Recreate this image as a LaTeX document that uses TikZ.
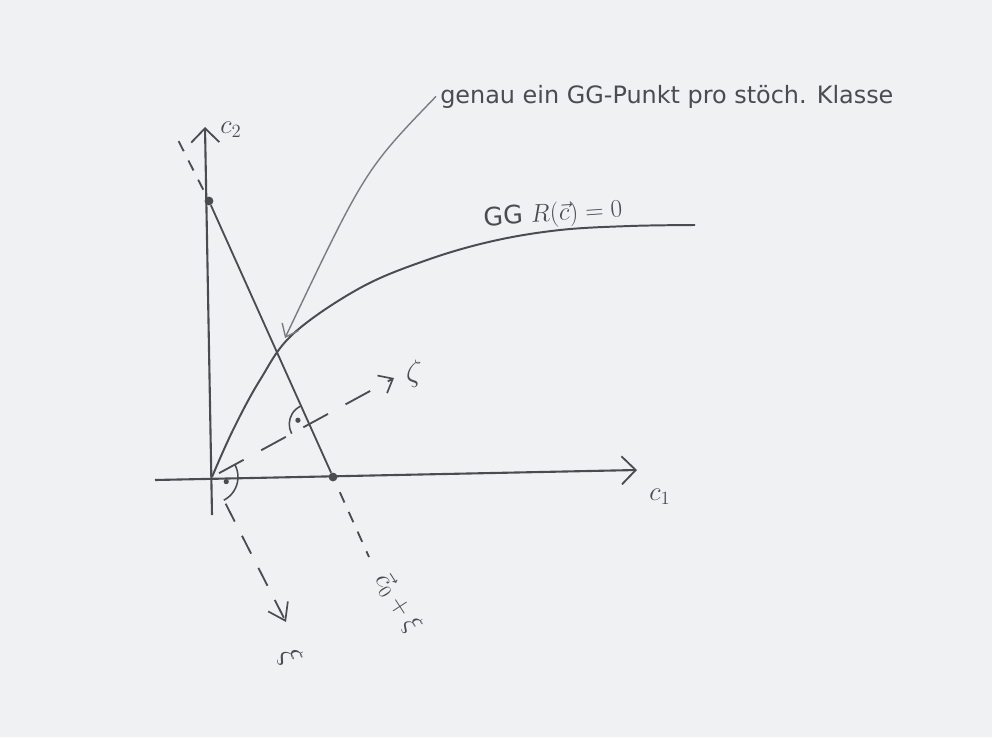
\RequirePackage{fix-cm}
\documentclass[tikz,border=0pt]{standalone}
\usepackage{fontspec}
\setmainfont{DejaVu Sans}
\usetikzlibrary{positioning,arrows.meta,calc}
\definecolor{pencil}{HTML}{4B4C50}
\definecolor{pencillt}{HTML}{7A7C80}
\definecolor{paper}{HTML}{EFF1F3}
\tikzset{
  axis/.style  ={line width=1.5pt, draw=pencil,
                 -{Straight Barb[length=3.5mm,width=7mm,line width=1.3pt]}},
  cls/.style   ={line width=1.3pt, draw=pencil},
  clsd/.style  ={cls, dash pattern=on 2.8mm off 2.6mm},
  daxz/.style  ={line width=1.3pt, draw=pencil, dash pattern=on 7mm off 5mm,
                 -{Straight Barb[length=3mm,width=5mm,line width=1.2pt]}},
  daxx/.style  ={line width=1.3pt, draw=pencil, dash pattern=on 5mm off 4mm,
                 -{Straight Barb[length=4mm,width=5.5mm,line width=1.2pt]}},
  ggc/.style   ={line width=1.4pt, draw=pencil},
  hint/.style  ={line width=1pt, draw=pencillt,
                 -{Straight Barb[length=2.8mm,width=4.5mm,line width=1pt]}},
  rang/.style  ={line width=1.1pt, draw=pencil},
  pt/.style    ={circle, fill=pencil, inner sep=0pt, minimum size=2.2mm},
  dotm/.style  ={circle, fill=pencil, inner sep=0pt, minimum size=1.3mm},
  lbl/.style   ={text=pencil, inner sep=1pt, font=\fontsize{19}{22}\selectfont},
  note/.style  ={text=pencil, inner sep=0pt, font=\fontsize{17}{20}\selectfont}
}

\begin{document}
\begin{tikzpicture}[x=0.025cm, y=-0.025cm]
  \fill[paper] (0,0) rectangle (992,737);
  \useasboundingbox (0,0) rectangle (992,737);

  % axes
  \coordinate (o)   at (212,477);
  \coordinate (c1a) at (155,480);
  \coordinate (c1b) at (637,470);
  \coordinate (c2a) at (212,515);
  \coordinate (c2b) at (205,127);
  \draw[axis] (c1a) -- (c1b);
  \draw[axis] (c2a) -- (c2b);
  \node[lbl] (c1l) at (660,497) {$c_1$};
  \node[lbl] (c2l) at (231,130) {$c_2$};

  % stoichiometric class
  \node[pt] (p2) at (209,201) {};
  \node[pt] (p1) at (333,477) {};
  \coordinate (te) at (176,136);
  \coordinate (be) at (369,557);
  \draw[cls] (p2) -- (p1);
  \draw[clsd, shorten <=2mm] (p2) -- (te);
  \draw[clsd, shorten <=3mm] (p1) -- (be);
  \node[lbl, rotate=-57] (cl) at (398,603) {$\vec{c}_0+\xi$};

  % new axes
  \coordinate (zt) at (394,378);
  \coordinate (xt) at (286,622);
  \draw[daxz, shorten <=2mm] (o) -- (zt);
  \draw[daxx, shorten <=7.5mm] (o) -- (xt);
  \node[lbl, font=\fontsize{22}{26}\selectfont] (zl) at (414,374) {$\zeta$};
  \node[lbl, font=\fontsize{22}{26}\selectfont, rotate=-65] (xl) at (290,657) {$\xi$};

  % right angles
  \coordinate (x0) at (intersection of p2--p1 and o--zt);
  \draw[rang] ($(o)+(-27.6:26)$) arc[start angle=-27.6, end angle=63, radius=26];
  \node[dotm] (d0) at ($(o)+(18:15)$) {};
  \draw[rang] ($(x0)+(151.5:20)$) arc[start angle=151.5, end angle=245.8, radius=20];
  \node[dotm] (d1) at ($(x0)+(199:12)$) {};

  % equilibrium curve
  \draw[ggc] plot[smooth, tension=0.6] coordinates {(212,477) (233,430) (260,380)
    (293,334) (360,288) (427,260) (493,241) (560,230) (630,226) (695,225)};
  \node[lbl, font=\fontsize{18}{22}\selectfont, rotate=4] (ggl) at (553,215) {GG $R(\vec{c})=0$};

  % annotation
  \node[note, anchor=base west] (nt) at (440,103) {genau ein GG-Punkt pro stöch. Klasse};
  \coordinate (hit) at (285,338);
  \draw[hint] ([xshift=-1mm]nt.west) .. controls (365,170) .. (hit);
\end{tikzpicture}
\end{document}
